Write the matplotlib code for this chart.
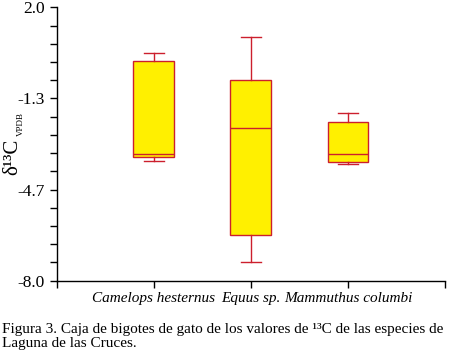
import matplotlib
matplotlib.use("Agg")
import matplotlib.pyplot as plt
import numpy as np

categories = ["Camelops hesternus", "Equus sp.", "Mammuthus columbi"]
whisker_low = [-3.63, -7.33, -3.73]
q1 = [-3.49, -6.34, -3.67]
median = [-3.38, -2.43, -3.38]
q3 = [0.025, -0.67, -2.21]
whisker_high = [0.32, 0.90, -1.88]
ytick_values = [2.0, -1.3333, -4.6667, -8.0]
ytick_labels = ["2.0", "-1.3", "-4.7", "-8.0"]

plt.rcParams['font.family'] = ['Liberation Serif', 'DejaVu Serif']

fig = plt.figure(figsize=(4.49, 3.57), dpi=100)
ax = fig.add_axes([0.1263, 0.2137, 0.8647, 0.7659])

stats = []
for i, name in enumerate(categories):
    stats.append(dict(label=name, whislo=whisker_low[i], q1=q1[i], med=median[i],
                      q3=q3[i], whishi=whisker_high[i], fliers=[]))

edge = '#CC1F2D'
fill = '#FFF000'
ax.bxp(stats, positions=[1, 2, 3], widths=0.42, patch_artist=True,
       showfliers=False, capwidths=0.21,
       boxprops=dict(facecolor=fill, edgecolor=edge, linewidth=1.0),
       medianprops=dict(color=edge, linewidth=1.0),
       whiskerprops=dict(color=edge, linewidth=1.0),
       capprops=dict(color=edge, linewidth=1.0))

ax.set_xlim(0, 4)
ax.set_ylim(-8.0, 2.0)
ax.spines['top'].set_visible(False)
ax.spines['right'].set_visible(False)
ax.spines['left'].set_linewidth(1.0)
ax.spines['bottom'].set_linewidth(1.0)

ax.set_xticks([0, 1, 2, 3, 4])
ax.set_xticklabels(["", categories[0], categories[1], categories[2], ""],
                   fontstyle='italic', fontsize=11)
ax.tick_params(axis='x', direction='out', length=5, width=1, pad=3)

ax.set_yticks(ytick_values)
ax.set_yticklabels(ytick_labels, fontsize=12.5)
ax.set_yticks(np.linspace(-8, 2, 16), minor=True)
ax.tick_params(axis='y', which='both', direction='out', length=5, width=1, pad=3.5)

# y-axis label: delta 13 C with small VPDB subscript
fig.text(0.028, 1 - 175 / 357, "δ¹³C", fontsize=15, rotation=90,
         ha='center', va='bottom')
fig.text(0.046, 1 - 136 / 357, "VPDB", fontsize=6.5, rotation=90,
         ha='center', va='bottom')

fig.text(0.004, 1 - 333 / 357,
         "Figura 3. Caja de bigotes de gato de los valores de ¹³C de las especies de",
         fontsize=11, ha='left', va='baseline')
fig.text(0.004, 1 - 347.5 / 357, "Laguna de las Cruces.", fontsize=11,
         ha='left', va='baseline')

fig.savefig("out.png", dpi=100)
